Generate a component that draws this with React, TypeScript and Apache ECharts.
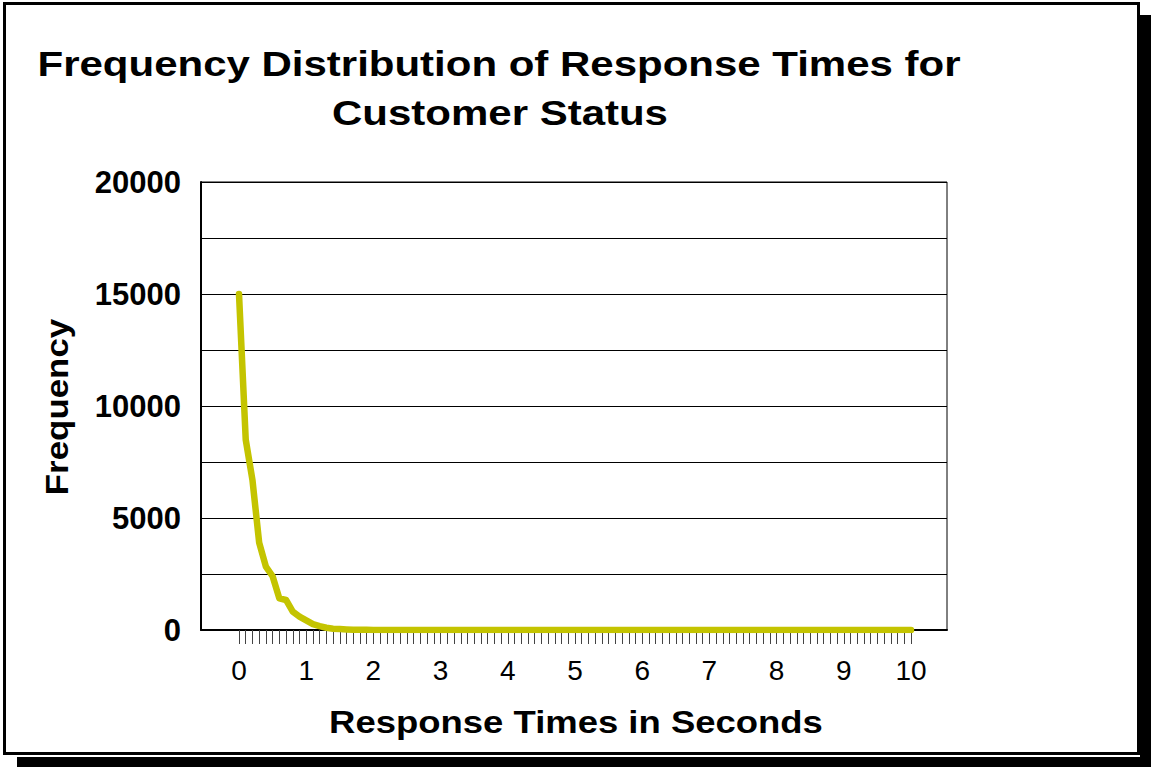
import React, { useEffect, useRef } from "react";
import * as echarts from "echarts";

const titleLines = ["Frequency Distribution of Response Times for", "Customer Status"];
const xTitle = "Response Times in Seconds";
const yTitle = "Frequency";

// response times 0.0 .. 10.0 in steps of 0.1
const responseTimes: string[] = [];
for (let i = 0; i <= 100; i++) responseTimes.push((i / 10).toFixed(1));

const frequencies = [
  15000, 8500, 6700, 3900, 2830, 2400, 1410, 1340, 820, 600,
  430, 260, 170, 100, 60, 40, 25, 15, 10, 8,
  5, 3, 2, 1, 1, 0, 0, 0, 0, 0,
  0, 0, 0, 0, 0, 0, 0, 0, 0, 0,
  0, 0, 0, 0, 0, 0, 0, 0, 0, 0,
  0, 0, 0, 0, 0, 0, 0, 0, 0, 0,
  0, 0, 0, 0, 0, 0, 0, 0, 0, 0,
  0, 0, 0, 0, 0, 0, 0, 0, 0, 0,
  0, 0, 0, 0, 0, 0, 0, 0, 0, 0,
  0, 0, 0, 0, 0, 0, 0, 0, 0, 0,
  0,
];

const yMin = 0;
const yMax = 20000;
const yLabelStep = 5000;

const FONT = "'Liberation Sans', Arial, Helvetica, sans-serif";

export default function App() {
  const ref = useRef<HTMLDivElement>(null);
  useEffect(() => {
    if (!ref.current) return;
    const chart = echarts.init(ref.current, null, { renderer: "svg" });
    chart.setOption({
      animation: false,
      backgroundColor: "#ffffff",
      grid: [
        { left: 201, top: 182, width: 746, height: 448, show: true, borderColor: "#000", borderWidth: 1, backgroundColor: "transparent" },
        { left: 239, top: 182, width: 672, height: 448 },
      ],
      xAxis: [
        {
          type: "value",
          gridIndex: 0,
          min: 0,
          max: 1,
          axisLine: { show: true, lineStyle: { color: "#000", width: 2 } },
          axisTick: { show: false },
          axisLabel: { show: false },
          splitLine: { show: false },
        },
        {
          type: "category",
          gridIndex: 1,
          data: responseTimes,
          boundaryGap: false,
          axisLine: { show: false },
          axisTick: { show: true, interval: 0, length: 14, lineStyle: { color: "#444", width: 1 } },
          axisLabel: {
            interval: 9,
            margin: 26,
            fontFamily: FONT,
            fontSize: 28,
            color: "#000",
            formatter: (v: string) => String(Number(v)),
          },
          splitLine: { show: false },
        },
      ],
      yAxis: [
        {
          type: "value",
          gridIndex: 0,
          min: yMin,
          max: yMax,
          interval: yLabelStep,
          axisLine: { show: true, lineStyle: { color: "#000", width: 2 } },
          axisTick: { show: false },
          minorTick: { show: false, splitNumber: 2 },
          minorSplitLine: { show: true, lineStyle: { color: "#000", width: 1 } },
          splitLine: { show: true, lineStyle: { color: "#000", width: 1 } },
          axisLabel: {
            margin: 20,
            fontFamily: FONT,
            fontSize: 31,
            fontWeight: "bold",
            color: "#000",
            formatter: (v: number) => String(v),
          },
        },
        {
          type: "value",
          gridIndex: 1,
          min: yMin,
          max: yMax,
          show: false,
          splitLine: { show: false },
        },
      ],
      series: [
        {
          type: "line",
          xAxisIndex: 1,
          yAxisIndex: 1,
          data: frequencies,
          symbol: "none",
          lineStyle: { color: "#c4c400", width: 6.5, join: "round", cap: "round" },
          z: 5,
        },
      ],
      graphic: [
        { type: "rect", shape: { x: 4.5, y: 3.5, width: 1134, height: 750 }, style: { fill: "none", stroke: "#000", lineWidth: 3 }, silent: true },
        { type: "rect", shape: { x: 1140, y: 15, width: 11, height: 752 }, style: { fill: "#000" }, silent: true },
        { type: "rect", shape: { x: 17, y: 757, width: 1134, height: 10 }, style: { fill: "#000" }, silent: true },
        {
          type: "text", x: 499, y: 64, scaleX: 1.2,
          style: { text: titleLines[0], fontFamily: FONT, fontSize: 35, fontWeight: "bold", fill: "#000", align: "center", verticalAlign: "middle" },
        },
        {
          type: "text", x: 500, y: 113, scaleX: 1.2,
          style: { text: titleLines[1], fontFamily: FONT, fontSize: 35, fontWeight: "bold", fill: "#000", align: "center", verticalAlign: "middle" },
        },
        {
          type: "text", x: 576, y: 722, scaleX: 1.14,
          style: { text: xTitle, fontFamily: FONT, fontSize: 32, fontWeight: "bold", fill: "#000", align: "center", verticalAlign: "middle" },
        },
        {
          type: "text", x: 57, y: 407, rotation: Math.PI / 2, scaleX: 1.09,
          style: { text: yTitle, fontFamily: FONT, fontSize: 32, fontWeight: "bold", fill: "#000", align: "center", verticalAlign: "middle" },
        },
      ],
    });
    return () => chart.dispose();
  }, []);
  return <div ref={ref} style={{ position: "fixed", left: 0, top: 0, width: 1151, height: 767 }} />;
}
